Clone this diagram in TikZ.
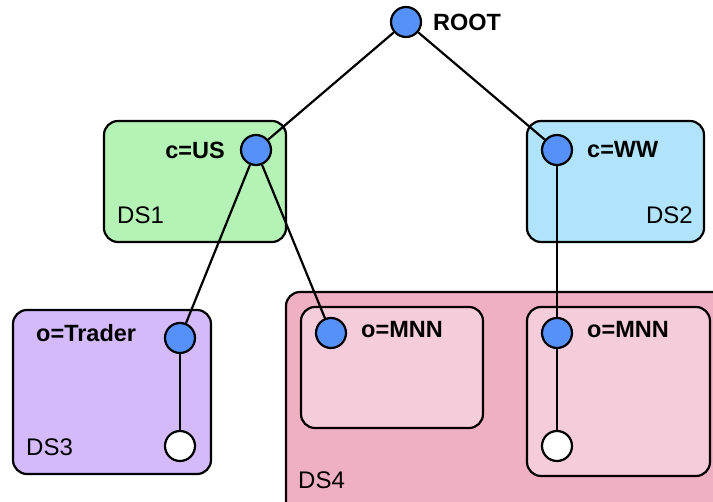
\documentclass[tikz,border=0pt]{standalone}
\usepackage{fontspec}
\setmainfont{Liberation Sans}
\definecolor{nodeblue}{HTML}{5591F8}
\definecolor{dsgreen}{HTML}{B5F2B5}
\definecolor{dsblue}{HTML}{B1E4FA}
\definecolor{dspurple}{HTML}{D4BAF8}
\definecolor{dspink}{HTML}{F0B0C4}
\definecolor{dslight}{HTML}{F4CCDA}
\tikzset{
  dn/.style={circle, draw, line width=2.2pt, fill=nodeblue, minimum size=30pt, inner sep=0pt},
  en/.style={dn, fill=white},
  lbl/.style={inner sep=0pt, font=\fontsize{23.5}{27}\selectfont\bfseries},
  dsl/.style={inner sep=0pt, font=\fontsize{24}{28}\selectfont},
  box/.style={draw, line width=2.2pt, rounded corners=14pt}
}
\begin{document}
\begin{tikzpicture}[x=1pt, y=-1pt]
    \useasboundingbox (0,0) rectangle (713,502);
    % data stores
    \draw[box, fill=dsgreen](104,121) rectangle (286,242);
    \draw[box, fill=dsblue](527,121) rectangle (704,242);
    \draw[box, fill=dspurple](13,310) rectangle (211,474);
    \draw[box, fill=dspink](286,292) rectangle (730,520);
    \draw[box, fill=dslight](301,307) rectangle (483,428);
    \draw[box, fill=dslight](527,307) rectangle (710,476);
    \node[dsl, anchor=west] at (117,215){DS1};
    \node[dsl, anchor=east] at (693,215){DS2};
    \node[dsl, anchor=west] at (26,447){DS3};
    \node[dsl, anchor=west] at (298,480){DS4};
    % tree
    \node[dn](root) at (406,22){};
    \node[dn](us) at (256,150){};
    \node[dn](ww) at (557,150){};
    \node[dn](trader) at (180,338){};
    \node[en](trleaf) at (180,446){};
    \node[dn](mnna) at (331,333){};
    \node[dn](mnnb) at (557,333){};
    \node[en](mnnleaf) at (557,446){};
    \draw[line width=2.2pt](root)--(us);
    \draw[line width=2.2pt](root)--(ww);
    \draw[line width=2.2pt](us)--(trader);
    \draw[line width=2.2pt](us)--(mnna);
    \draw[line width=2.2pt](ww)--(mnnb);
    \draw[line width=2.2pt](trader)--(trleaf);
    \draw[line width=2.2pt](mnnb)--(mnnleaf);
    \node[lbl, anchor=west] at (433,22){ROOT};
    \node[lbl, anchor=east] at (225,150){c=US};
    \node[lbl, anchor=west] at (587,150){c=WW};
    \node[lbl, anchor=west] at (36,333){o=Trader};
    \node[lbl, anchor=west] at (361,330){o=MNN};
    \node[lbl, anchor=west] at (587,330){o=MNN};
\end{tikzpicture}
\end{document}
